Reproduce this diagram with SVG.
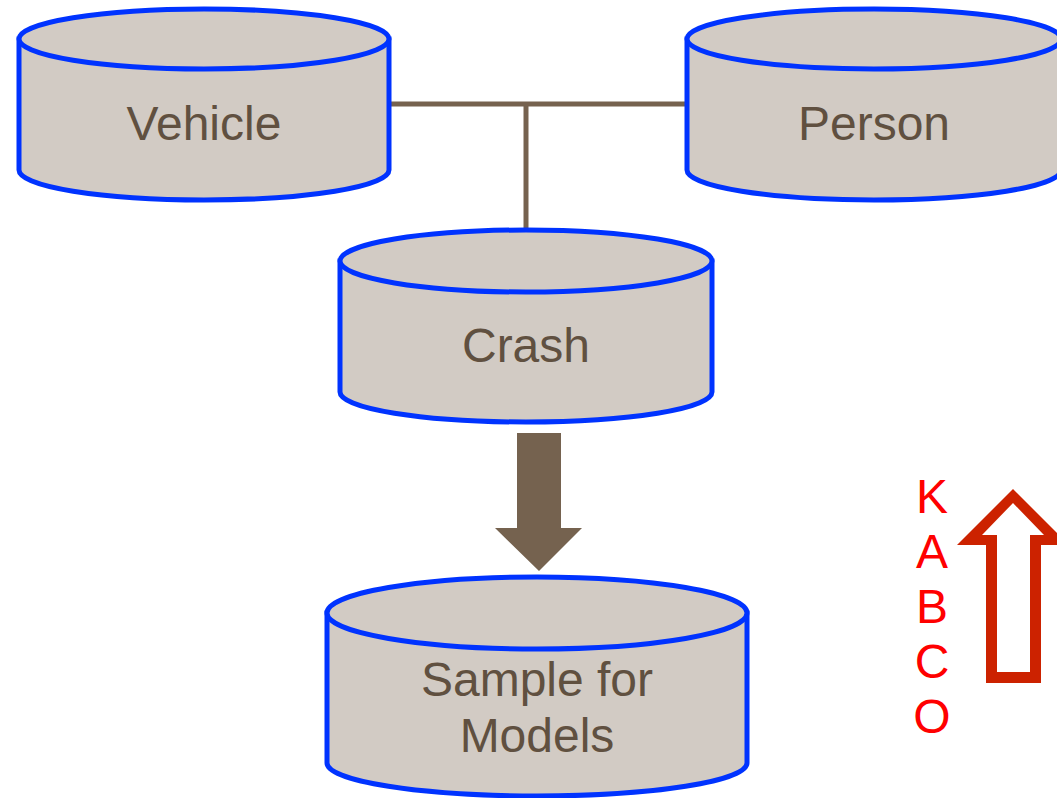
<svg xmlns="http://www.w3.org/2000/svg" width="1057" height="798" viewBox="0 0 1057 798">
  <style>
    .cyl { fill: #D2CBC4; stroke: #0033FF; stroke-width: 5; }
    .lbl { font-family: "Liberation Sans", Arial, sans-serif; font-size: 48px; fill: #605040; text-anchor: middle; }
    .link { stroke: #76624F; stroke-width: 5; fill: none; }
    .sev { font-family: "Liberation Sans", Arial, sans-serif; font-size: 48px; fill: #FF0000; text-anchor: middle; }
  </style>
  <rect width="1057" height="798" fill="#FFFFFF"/>

  <!-- connectors -->
  <g id="connectors">
    <line class="link" x1="390" y1="104" x2="686" y2="104"/>
    <line class="link" x1="526" y1="104" x2="526" y2="230"/>
    <polygon fill="#75624F" points="517,433 561,433 561,528 582,528 539,571 495,528 517,528"/>
  </g>

  <!-- Vehicle -->
  <g id="vehicle">
    <path class="cyl" d="M19,39 L19,170 A185,30 0 0 0 389,170 L389,39 Z"/>
    <ellipse class="cyl" cx="204" cy="39" rx="185" ry="30"/>
    <text class="lbl" x="204" y="140">Vehicle</text>
  </g>

  <!-- Person -->
  <g id="person">
    <path class="cyl" d="M687,39 L687,170 A187,30 0 0 0 1061,170 L1061,39 Z"/>
    <ellipse class="cyl" cx="874" cy="39" rx="187" ry="30"/>
    <text class="lbl" x="874" y="140">Person</text>
  </g>

  <!-- Crash -->
  <g id="crash">
    <path class="cyl" d="M340,261 L340,392 A186,30 0 0 0 712,392 L712,261 Z"/>
    <ellipse class="cyl" cx="526" cy="261" rx="186" ry="31"/>
    <text class="lbl" x="526" y="362">Crash</text>
  </g>

  <!-- Sample for Models -->
  <g id="sample">
    <path class="cyl" d="M327,613 L327,763 A210,33 0 0 0 747,763 L747,613 Z"/>
    <ellipse class="cyl" cx="537" cy="613" rx="210" ry="36"/>
    <text class="lbl" x="537" y="696">Sample for</text>
    <text class="lbl" x="537" y="752">Models</text>
  </g>

  <!-- severity scale -->
  <g id="kabco">
    <text class="sev" x="932" y="513">K</text>
    <text class="sev" x="932" y="568">A</text>
    <text class="sev" x="932" y="623">B</text>
    <text class="sev" x="932" y="678">C</text>
    <text class="sev" x="932" y="733">O</text>
  </g>
  <g id="scale-arrow">
    <path fill="#CC2200" fill-rule="evenodd" d="M1013,489 L957,545 L986,545 L986,683 L1041,683 L1041,545 L1069,545 Z M1013,503 L982,535 L997,535 L997,672 L1030,672 L1030,535 L1044,535 Z"/>
  </g>
</svg>
